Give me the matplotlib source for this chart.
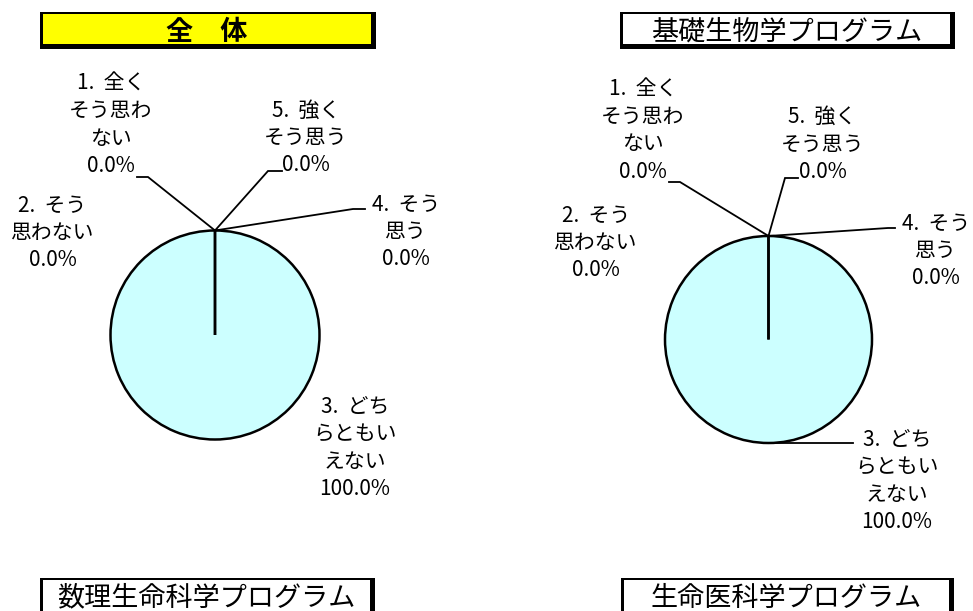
import matplotlib
matplotlib.use("Agg")
import matplotlib.pyplot as plt
from matplotlib.patches import Rectangle
import numpy as np

plt.rcParams['font.family'] = ['Noto Sans CJK JP', 'DejaVu Sans']

# ---- data ----
categories = ['1. 全くそう思わない', '2. そう思わない', '3. どちらともいえない',
              '4. そう思う', '5. 強くそう思う']
titles = ['全　体', '基礎生物学プログラム', '数理生命科学プログラム', '生命医科学プログラム']
values_all = [0.0, 0.0, 100.0, 0.0, 0.0]
values_kiso = [0.0, 0.0, 100.0, 0.0, 0.0]

# ---- layout (pixel space) ----
W, H = 973, 611
fig = plt.figure(figsize=(W / 100, H / 100), dpi=100)
ax = fig.add_axes([0, 0, 1, 1])

PIE_FILL = '#CCFFFF'
LINE_H = 27.4


def wrap(cat):
    num, rest = cat.split(' ', 1)
    lines = [num + '  ' + rest[:2]]
    rest = rest[2:]
    while rest:
        lines.append(rest[:4])
        rest = rest[4:]
    return lines


def draw_panel(values, center, radius, label_layout):
    wedges, _ = ax.pie(values, center=center, radius=radius, startangle=-90,
                       counterclock=False, colors=[PIE_FILL] * len(values),
                       wedgeprops=dict(edgecolor='black', linewidth=1.8))
    total = sum(values)
    for i, (cat, v, w) in enumerate(zip(categories, values, wedges)):
        lay = label_layout[i]
        lines = wrap(cat) + [f'{v / total * 100:.1f}%']
        cx, cy = lay['pos']
        n = len(lines)
        for k, line in enumerate(lines):
            ax.text(cx, cy + (k - (n - 1) / 2) * LINE_H + 8, line, ha='center',
                    va='baseline', fontsize=15, color='black')
        if lay.get('leader'):
            th = np.deg2rad((w.theta1 + w.theta2) / 2)
            ax0 = w.center[0] + w.r * np.cos(th)
            ay0 = w.center[1] + w.r * np.sin(th)
            (ex, ey), endx = lay['leader']
            ax.plot([ax0, ex, endx], [ay0, ey, ey], color='black', lw=1.3,
                    solid_joinstyle='miter')


left_layout = [
    dict(pos=(111, 123), leader=((148, 177), 137)),
    dict(pos=(52.5, 231)),
    dict(pos=(355, 446)),
    dict(pos=(406, 230), leader=((353, 209), 365)),
    dict(pos=(306, 136), leader=((268, 171), 282)),
]
right_layout = [
    dict(pos=(643, 128.5), leader=((680, 182), 669)),
    dict(pos=(596, 241)),
    dict(pos=(897, 479), leader=((853, 443), 853)),
    dict(pos=(936, 249), leader=((888, 228), 895)),
    dict(pos=(822.5, 142.5), leader=((785, 178), 798)),
]

draw_panel(values_all, (215, 335), 104.5, left_layout)
draw_panel(values_kiso, (768.5, 339.5), 103.5, right_layout)


def title_box(x0, y0, x1, y1, text, fill, bold=False):
    ax.add_patch(Rectangle((x0, y0), x1 - x0, y1 - y0, facecolor='black',
                           edgecolor='none', zorder=5))
    ax.add_patch(Rectangle((x0 + 2.6, y0 + 2.4), (x1 - x0) - 7.2, (y1 - y0) - 7.2,
                           facecolor=fill, edgecolor='none', zorder=6))
    ax.text((x0 + x1) / 2 - 1, y0 + 27.5, text, ha='center', va='baseline',
            fontsize=19.5, fontweight='bold' if bold else 'normal', zorder=7,
            color='black')


title_box(40, 12, 375.5, 49, titles[0], '#FFFF00', bold=True)
title_box(620, 12, 955, 49, titles[1], 'white')
title_box(40, 578, 375, 640, titles[2], 'white')
title_box(621, 578, 954, 640, titles[3], 'white')

ax.set_xlim(0, W)
ax.set_ylim(H, 0)
ax.set_aspect('auto')
ax.axis('off')

fig.savefig('out.png', dpi=100)
